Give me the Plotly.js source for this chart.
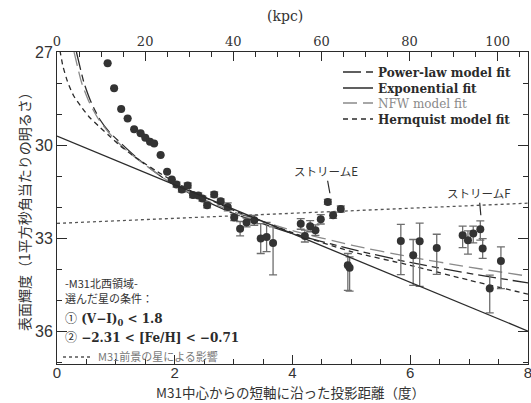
<!DOCTYPE html>
<html>
<head>
<meta charset="utf-8">
<script src="https://cdn.plot.ly/plotly-3.0.1.min.js"></script>
<style>
  html, body { margin: 0; padding: 0; background: #fff; }
  #chart { width: 531px; height: 403px; }
</style>
</head>
<body>
<div id="chart"></div>
<script>
// Surface brightness of the M31 north-west field along the minor axis
const distDeg = [
  0.86, 0.97, 1.09, 1.20, 1.31, 1.42, 1.50, 1.58, 1.65, 1.76,
  1.87, 1.95, 2.03, 2.12, 2.22, 2.31, 2.40, 2.47, 2.55, 2.67,
  2.78, 2.90, 3.01, 3.11, 3.22, 3.35, 3.46, 3.56, 3.67, 4.14,
  4.21, 4.30, 4.39, 4.48, 4.60, 4.69, 4.82, 4.94, 4.97, 5.84,
  6.05, 6.16, 6.45, 6.89, 6.98, 7.07, 7.19, 7.23, 7.35, 7.54
];
const surfBright = [
  27.36, 28.17, 28.84, 29.14, 29.49, 29.62, 29.76, 29.89, 29.95, 30.32,
  30.86, 31.11, 31.27, 31.43, 31.30, 31.61, 31.62, 31.72, 31.94, 31.59,
  31.81, 31.99, 32.33, 32.69, 32.49, 32.42, 33.01, 32.96, 33.15, 32.53,
  32.93, 32.61, 32.74, 32.39, 31.83, 32.26, 32.06, 33.87, 33.95, 33.09,
  33.55, 33.10, 33.31, 32.90, 33.06, 32.85, 32.71, 33.33, 34.62, 33.73
];
// error toward fainter values (drawn downward) and toward brighter values
const errFainter = [
  0, 0, 0, 0, 0, 0, 0, 0, 0, 0,
  0, 0, 0.08, 0.08, 0.08, 0.08, 0.08, 0.08, 0.08, 0.08,
  0.08, 0.13, 0.10, 0.23, 0.14, 0.16, 0.48, 0.47, 1.03, 0.18,
  0.19, 0.18, 0.17, 0.15, 0.08, 0.10, 0.10, 0.81, 0.75, 1.08,
  0.97, 1.45, 0.85, 0.40, 0.45, 0.30, 0.35, 0.32, 0.78, 0.89
];
const errBrighter = [
  0, 0, 0, 0, 0, 0, 0, 0, 0, 0,
  0, 0, 0.08, 0.08, 0.08, 0.08, 0.08, 0.08, 0.08, 0.08,
  0.08, 0.13, 0.10, 0.23, 0.14, 0.16, 0.48, 0.47, 0.52, 0.16,
  0.19, 0.18, 0.17, 0.15, 0.08, 0.10, 0.10, 0.38, 0.35, 0.54,
  0.51, 0.59, 0.44, 0.29, 0.30, 0.24, 0.27, 0.32, 0.43, 0.45
];

// Model fits
const powerLawR  = [0.33, 0.46, 0.58, 0.72, 0.89, 1.12, 1.40, 1.80, 2.30, 3.00, 4.00, 5.00, 6.00, 7.00, 8.00];
const powerLawMu = [27.00, 28.00, 28.62, 29.15, 29.58, 30.00, 30.48, 31.05, 31.60, 32.20, 32.85, 33.35, 33.78, 34.13, 34.44];

const expR  = [0, 8];
const expMu = [29.71, 35.99];

const nfwR  = [0.29, 0.42, 0.55, 0.70, 0.88, 1.10, 1.40, 1.80, 2.30, 3.00, 4.00, 5.00, 6.00, 7.00, 8.00];
const nfwMu = [27.00, 28.00, 28.63, 29.15, 29.60, 30.03, 30.50, 31.05, 31.58, 32.15, 32.75, 33.22, 33.60, 33.93, 34.22];

const hernR  = [0.05, 0.10, 0.18, 0.28, 0.41, 0.55, 0.72, 0.90, 1.06, 1.30, 1.70, 2.20, 3.00, 4.00, 5.00, 6.00, 7.00, 8.00];
const hernMu = [26.95, 27.45, 27.96, 28.40, 28.76, 29.10, 29.41, 29.72, 30.00, 30.35, 30.85, 31.40, 32.10, 32.82, 33.43, 33.87, 34.35, 34.80];

// Contribution of M31 foreground stars
const foreR  = [0, 8];
const foreMu = [32.52, 31.87];

const legendNames = ['Power-law model fit', 'Exponential fit', 'NFW model fit', 'Hernquist model fit', 'M31前景の星による影響'];

const KPC_PER_DEG = 13.36;   // projected scale at the distance of M31
const X_MAX_DEG = 8;

const ink = '#2b2b2b';
const serif = 'DejaVu Serif, serif';
const sans = 'Liberation Sans, Arial, sans-serif';
const jp = 'Noto Sans CJK JP, sans-serif';

function fitLine(x, y, name, legendId, color, dash) {
  return {
    x: x, y: y, type: 'scatter', mode: 'lines', name: name,
    legend: legendId, hoverinfo: 'skip', cliponaxis: true,
    line: { color: color, width: 1.3, dash: dash, shape: 'spline', smoothing: 0.6 }
  };
}

// the exponential fit is drawn against the kpc axis (same scale, converted)
const expTrace = fitLine(expR.map(r => r * KPC_PER_DEG), expMu, legendNames[1], 'legend2', ink, 'solid');
expTrace.xaxis = 'x2';
expTrace.line.shape = 'linear';

const traces = [
  fitLine(powerLawR, powerLawMu, legendNames[0], 'legend',  ink, '18px,5px,7px,5px'),
  expTrace,
  fitLine(nfwR, nfwMu,           legendNames[2], 'legend3', '#8a8a8a', '14px,6px'),
  fitLine(hernR, hernMu,         legendNames[3], 'legend4', ink, '5px,4px'),
  {
    x: foreR, y: foreMu, type: 'scatter', mode: 'lines', name: legendNames[4],
    legend: 'legend5', hoverinfo: 'skip',
    line: { color: '#555', width: 1.3, dash: 'dot' }
  },
  {
    x: distDeg, y: surfBright, type: 'scatter', mode: 'markers', showlegend: false,
    marker: { color: '#333', size: 8 },
    error_y: {
      type: 'data', symmetric: false,
      array: errFainter, arrayminus: errBrighter,
      color: '#6e6e6e', thickness: 1.3, width: 4
    }
  }
];

const mL = 57, mR = 3, mT = 52, mB = 39;
const plotW = 531 - mL - mR, plotH = 403 - mT - mB;
const px2x = px => (px - mL) / plotW;
const py2y = py => 1 - (py - mT) / plotH;

function oneLegend(py, fontColor, fontFamily, size, bold) {
  return {
    x: px2x(338), y: py2y(py), xanchor: 'left', yanchor: 'middle',
    bgcolor: 'rgba(0,0,0,0)', borderwidth: 0, itemwidth: 30,
    font: { family: fontFamily, size: size, color: fontColor, weight: bold ? 'bold' : 'normal' }
  };
}

function note(px, py, text, font, extra) {
  return Object.assign({
    x: px2x(px), y: py2y(py), xref: 'paper', yref: 'paper',
    xanchor: 'left', yanchor: 'middle', text: text, showarrow: false, font: font
  }, extra || {});
}

const layout = {
  width: 531, height: 403,
  margin: { l: mL, r: mR, t: mT, b: mB },
  paper_bgcolor: '#fff', plot_bgcolor: '#fff',
  showlegend: true,
  xaxis: {
    range: [0, X_MAX_DEG], tick0: 0, dtick: 2,
    ticks: 'inside', ticklen: 9, tickwidth: 1, tickcolor: ink,
    minor: { dtick: 0.5, ticks: 'inside', ticklen: 5, tickcolor: ink },
    showline: true, linecolor: ink, linewidth: 1, mirror: false,
    showgrid: false, zeroline: false, ticklabeloverflow: 'allow',
    ticklabelstandoff: -5,
    tickfont: { family: sans, size: 15, color: '#333' }
  },
  xaxis2: {
    overlaying: 'x', side: 'top', anchor: 'y',
    range: [0, X_MAX_DEG * KPC_PER_DEG], tick0: 0, dtick: 20,
    ticks: 'inside', ticklen: 9, tickwidth: 1, tickcolor: ink,
    minor: { dtick: 5, ticks: 'inside', ticklen: 5, tickcolor: ink },
    showline: true, linecolor: ink, linewidth: 1,
    showgrid: false, zeroline: false, ticklabeloverflow: 'allow',
    tickfont: { family: serif, size: 13, color: '#333' }
  },
  yaxis: {
    range: [37.05, 27], tick0: 27, dtick: 3,
    ticks: 'inside', ticklen: 10, tickwidth: 1, tickcolor: ink,
    minor: { dtick: 1, ticks: 'inside', ticklen: 5, tickcolor: ink },
    showline: true, linecolor: ink, linewidth: 1, mirror: 'ticks',
    showgrid: false, zeroline: false,
    tickfont: { family: sans, size: 16, color: '#333' }
  },
  legend:  oneLegend(72, ink, serif, 12, true),
  legend2: oneLegend(88, ink, serif, 12, true),
  legend3: oneLegend(103, '#8a8a8a', serif, 12, false),
  legend4: oneLegend(119, ink, serif, 12, true),
  legend5: Object.assign(oneLegend(357, '#777', jp, 11, false), { x: px2x(58) }),
  annotations: [
    // axis titles
    { x: px2x(290), y: py2y(392.5), xref: 'paper', yref: 'paper', xanchor: 'center', yanchor: 'middle',
      text: 'M31中心からの短軸に沿った投影距離（度）', showarrow: false,
      font: { family: jp, size: 13.5, color: '#333' } },
    { x: px2x(285), y: py2y(16), xref: 'paper', yref: 'paper', xanchor: 'center', yanchor: 'middle',
      text: '(kpc)', showarrow: false,
      font: { family: serif, size: 14, color: '#333' } },
    { x: px2x(24), y: py2y(208), xref: 'paper', yref: 'paper', xanchor: 'center', yanchor: 'middle',
      text: '表面輝度（1平方秒角当たりの明るさ）', showarrow: false, textangle: -90,
      font: { family: jp, size: 14, color: '#333' } },
    // stream labels
    {
      x: 4.635, y: 31.55, xref: 'x', yref: 'y',
      text: 'ストリームE', showarrow: true, arrowhead: 0, arrowwidth: 1.2, arrowcolor: ink,
      ax: -4, ay: -22, font: { family: jp, size: 11.5, color: '#333' }
    },
    {
      x: 7.199, y: 32.26, xref: 'x', yref: 'y',
      text: 'ストリームF', showarrow: true, arrowhead: 0, arrowwidth: 1.2, arrowcolor: ink,
      ax: -2, ay: -22, font: { family: jp, size: 11.5, color: '#333' }
    },
    // selection criteria block
    note(63, 283, '-M31北西領域-', { family: jp, size: 11, color: '#333' }),
    note(63, 298, '選んだ星の条件：', { family: jp, size: 11, color: '#333' }),
    note(63, 318, '<span style="font-family:Noto Sans CJK JP;font-weight:normal">①</span> (V−I)<sub>0</sub> &lt; 1.8',
      { family: serif, size: 12, color: ink, weight: 'bold' }),
    note(63, 336, '<span style="font-family:Noto Sans CJK JP;font-weight:normal">②</span> −2.31 &lt; [Fe/H] &lt; −0.71',
      { family: serif, size: 12, color: ink, weight: 'bold' })
  ]
};

Plotly.newPlot('chart', traces, layout, { displayModeBar: false, staticPlot: true });
</script>
</body>
</html>
